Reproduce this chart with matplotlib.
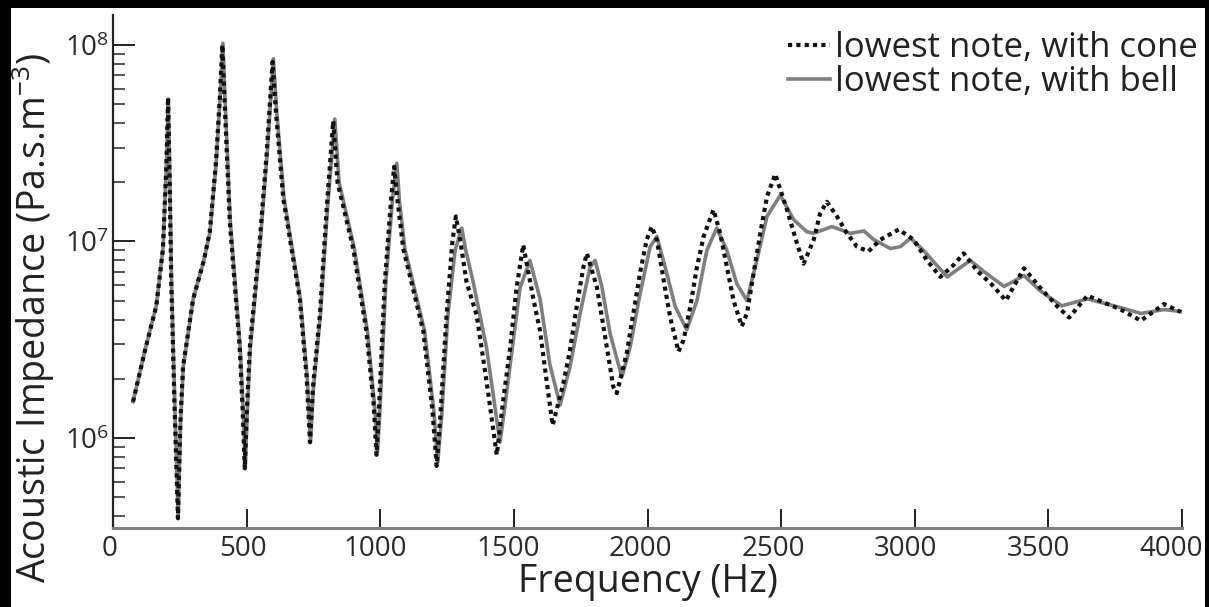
import numpy as np
import matplotlib
matplotlib.use("Agg")
import matplotlib.pyplot as plt
from matplotlib.patches import Rectangle
from matplotlib.transforms import ScaledTranslation
from matplotlib.ticker import LogLocator, NullFormatter, FixedLocator

plt.rcParams['font.family'] = ['Open Sans', 'DejaVu Sans']
plt.rcParams['mathtext.fontset'] = 'custom'
plt.rcParams['mathtext.rm'] = 'Open Sans'
plt.rcParams['mathtext.it'] = 'Open Sans'
plt.rcParams['mathtext.default'] = 'rm'

# -------------------------
# Data: (frequency Hz, impedance Pa.s.m^-3)
# -------------------------
cone = [
    (75, 1.53e6), (120, 2.8e6), (162, 4.7e6), (187, 9.2e6), (200, 2.5e7),
    (206, 5.4e7), (212, 2.0e7), (218, 6.2e6), (230, 1.5e6), (243, 3.9e5),
    (252, 1.2e6), (262, 2.3e6), (300, 5.1e6), (340, 8.0e6), (362, 1.12e7),
    (385, 2.5e7), (400, 5.5e7), (409, 1.0e8), (418, 5.0e7), (437, 1.26e7),
    (474, 2.9e6), (485, 1.4e6), (493, 7.0e5), (500, 1.3e6), (512, 2.9e6),
    (549, 1.0e7), (575, 2.8e7), (597, 8.2e7), (610, 4.5e7), (637, 1.66e7),
    (699, 5.1e6), (725, 2.0e6), (737, 9.5e5), (748, 1.8e6), (774, 4.2e6),
    (800, 1.5e7), (824, 4.1e7), (840, 2.0e7), (899, 9.2e6), (948, 3.5e6),
    (975, 1.5e6), (986, 8.2e5), (995, 1.4e6), (1017, 6.2e6), (1040, 1.6e7),
    (1052, 2.4e7), (1065, 1.6e7), (1086, 9.2e6), (1161, 3.5e6), (1195, 1.4e6),
    (1211, 7.2e5), (1225, 1.3e6), (1248, 4.2e6), (1270, 1.0e7), (1283, 1.34e7),
    (1300, 1.0e7), (1323, 6.2e6), (1361, 4.2e6), (1398, 1.93e6), (1436, 8.2e5),
    (1461, 1.59e6), (1486, 2.87e6), (1510, 5.8e6), (1535, 9.6e6), (1573, 5.1e6),
    (1598, 3.5e6), (1623, 1.93e6), (1645, 1.16e6), (1685, 1.89e6), (1710, 2.8e6),
    (1735, 4.65e6), (1760, 7.4e6), (1773, 8.7e6), (1810, 5.9e6), (1835, 3.7e6),
    (1872, 1.82e6), (1885, 1.69e6), (1922, 2.69e6), (1947, 4.3e6), (1972, 6.9e6),
    (1997, 1.02e7), (2016, 1.19e7), (2035, 1.02e7), (2060, 6.4e6), (2085, 4.1e6),
    (2116, 2.75e6), (2135, 3.15e6), (2160, 4.65e6), (2185, 7.4e6), (2210, 1.06e7),
    (2247, 1.45e7), (2272, 1.1e7), (2297, 7.4e6), (2322, 5.0e6), (2353, 3.7e6),
    (2372, 4.3e6), (2397, 6.9e6), (2422, 1.1e7), (2447, 1.69e7), (2478, 2.2e7),
    (2522, 1.45e7), (2559, 9.8e6), (2584, 7.7e6), (2622, 1.02e7), (2646, 1.39e7),
    (2671, 1.59e7), (2709, 1.34e7), (2746, 1.1e7), (2784, 9.4e6), (2827, 8.9e6),
    (2871, 1.02e7), (2940, 1.15e7), (2996, 1.02e7), (3046, 8.0e6), (3096, 6.6e6),
    (3146, 7.6e6), (3183, 8.7e6), (3233, 7.1e6), (3290, 6.0e6), (3341, 5.0e6),
    (3409, 7.3e6), (3470, 5.8e6), (3534, 4.66e6), (3578, 4.1e6), (3646, 5.3e6),
    (3771, 4.5e6), (3846, 3.95e6), (3933, 4.8e6), (3996, 4.37e6),
]

bell = [
    (75, 1.53e6), (120, 2.8e6), (162, 4.7e6), (187, 9.2e6), (200, 2.5e7),
    (207, 5.3e7), (213, 2.0e7), (219, 6.2e6), (231, 1.5e6), (244, 3.9e5),
    (253, 1.2e6), (263, 2.3e6), (300, 5.1e6), (340, 8.0e6), (363, 1.12e7),
    (386, 2.5e7), (401, 5.5e7), (411, 1.02e8), (420, 5.0e7), (439, 1.26e7),
    (476, 2.9e6), (487, 1.4e6), (495, 7.0e5), (502, 1.3e6), (514, 2.9e6),
    (551, 1.0e7), (577, 2.8e7), (600, 8.5e7), (613, 4.5e7), (640, 1.66e7),
    (701, 5.1e6), (727, 2.0e6), (739, 9.5e5), (750, 1.8e6), (776, 4.2e6),
    (803, 1.5e7), (830, 4.2e7), (846, 2.0e7), (903, 9.2e6), (952, 3.5e6),
    (978, 1.5e6), (990, 8.5e5), (999, 1.4e6), (1021, 6.2e6), (1045, 1.6e7),
    (1062, 2.5e7), (1072, 1.6e7), (1092, 9.2e6), (1166, 3.5e6), (1200, 1.4e6),
    (1215, 7.5e5), (1230, 1.3e6), (1253, 4.2e6), (1280, 9.0e6), (1305, 1.17e7),
    (1320, 9.0e6), (1348, 6.2e6), (1398, 2.86e6), (1448, 9.5e5), (1465, 1.4e6),
    (1486, 2.35e6), (1523, 5.8e6), (1560, 8.0e6), (1598, 5.1e6), (1635, 2.35e6),
    (1673, 1.47e6), (1710, 2.3e6), (1748, 4.3e6), (1785, 7.4e6), (1804, 8.0e6),
    (1829, 5.9e6), (1860, 3.4e6), (1904, 2.04e6), (1935, 2.9e6), (1972, 5.4e6),
    (2010, 9.4e6), (2035, 1.06e7), (2066, 7.4e6), (2104, 4.65e6), (2147, 3.55e6),
    (2185, 5.0e6), (2222, 9.0e6), (2259, 1.17e7), (2297, 9.0e6), (2334, 6.1e6),
    (2372, 5.0e6), (2409, 8.0e6), (2447, 1.34e7), (2497, 1.72e7), (2547, 1.29e7),
    (2596, 1.12e7), (2622, 1.1e7), (2690, 1.19e7), (2759, 1.1e7), (2810, 1.13e7),
    (2847, 1.02e7), (2909, 9.2e6), (2946, 9.4e6), (2984, 1.04e7), (3033, 9.0e6),
    (3121, 6.6e6), (3208, 8.0e6), (3260, 7.0e6), (3334, 5.9e6), (3409, 6.7e6),
    (3470, 5.6e6), (3550, 4.7e6), (3646, 5.1e6), (3771, 4.6e6), (3846, 4.3e6),
    (3933, 4.5e6), (3996, 4.4e6),
]

x_ticks = [0, 500, 1000, 1500, 2000, 2500, 3000, 3500, 4000]
y_major = [1e6, 1e7, 1e8]
y_labels = ['$10^{6}$', '$10^{7}$', '$10^{8}$']

cone_f, cone_z = zip(*cone)
bell_f, bell_z = zip(*bell)

# -------------------------
# Figure
# -------------------------
W, H = 1209, 607
fig = plt.figure(figsize=(W / 100, H / 100), dpi=100, facecolor='black')
fig.patches.append(Rectangle((11 / W, 0), (1205 - 11) / W, (H - 8) / H,
                             transform=fig.transFigure, facecolor='white',
                             edgecolor='none', zorder=-10))
ax = fig.add_axes([113 / W, (H - 528) / H, (1182 - 113) / W, (528 - 15) / H])
ax.set_facecolor('none')
ax.set_zorder(5)

ax.semilogy(bell_f, bell_z, '-', color='#7f7f7f', lw=2.6,
            label='lowest note, with bell', solid_joinstyle='round')
ax.semilogy(cone_f, cone_z, color='#111111', lw=3.0, linestyle=(0, (1, 1)),
            label='lowest note, with cone', dash_capstyle='butt')

ax.set_xlim(0, 4000)
ax.set_ylim(3.48e5, 1.42e8)

for s in ['top', 'right']:
    ax.spines[s].set_visible(False)
ax.spines['left'].set_color('#222222')
ax.spines['left'].set_linewidth(1.6)
ax.spines['bottom'].set_color('#808080')
ax.spines['bottom'].set_linewidth(2.2)

ax.xaxis.set_major_locator(FixedLocator(x_ticks))
ax.set_xticklabels([str(v) for v in x_ticks])
ax.yaxis.set_major_locator(FixedLocator(y_major))
ax.set_yticklabels(y_labels)
ax.yaxis.set_minor_locator(LogLocator(base=10, subs=np.arange(2, 10), numticks=20))
ax.yaxis.set_minor_formatter(NullFormatter())

ax.tick_params(axis='x', which='major', direction='in', length=14, width=1.4,
               color='#222222', labelsize=20, labelcolor='#2a2a2a', pad=5)
ax.tick_params(axis='y', which='major', direction='in', length=16, width=1.4,
               color='#222222', labelsize=20, labelcolor='#2a2a2a', pad=3)
ax.tick_params(axis='y', which='minor', direction='in', length=8.5, width=1.4,
               color='#555555')

# the x labels sit a little left of their ticks in the original (shift in pixels)
for i, lab in enumerate(ax.get_xticklabels()):
    shift = -3 - 8 * i / (len(x_ticks) - 1)
    lab.set_transform(lab.get_transform() + ScaledTranslation(shift / fig.dpi, 0, fig.dpi_scale_trans))

ax.set_xlabel('Frequency (Hz)', fontsize=27, color='#222222', labelpad=0)
ax.set_ylabel('Acoustic Impedance (Pa.s.m$^{-3}$)', fontsize=27, color='#222222')
ax.yaxis.set_label_coords(-0.052, 0.41)

handles, labels = ax.get_legend_handles_labels()
leg = ax.legend(handles[::-1], labels[::-1], loc='upper left',
                bbox_to_anchor=(788 / W, (H - 31) / H), bbox_transform=fig.transFigure,
                frameon=False, fontsize=25, handlelength=1.2, handletextpad=0.15,
                borderpad=0, borderaxespad=0, labelspacing=0.0)
for t in leg.get_texts():
    t.set_color('#222222')

fig.savefig('out.png', dpi=100, facecolor=fig.get_facecolor())
